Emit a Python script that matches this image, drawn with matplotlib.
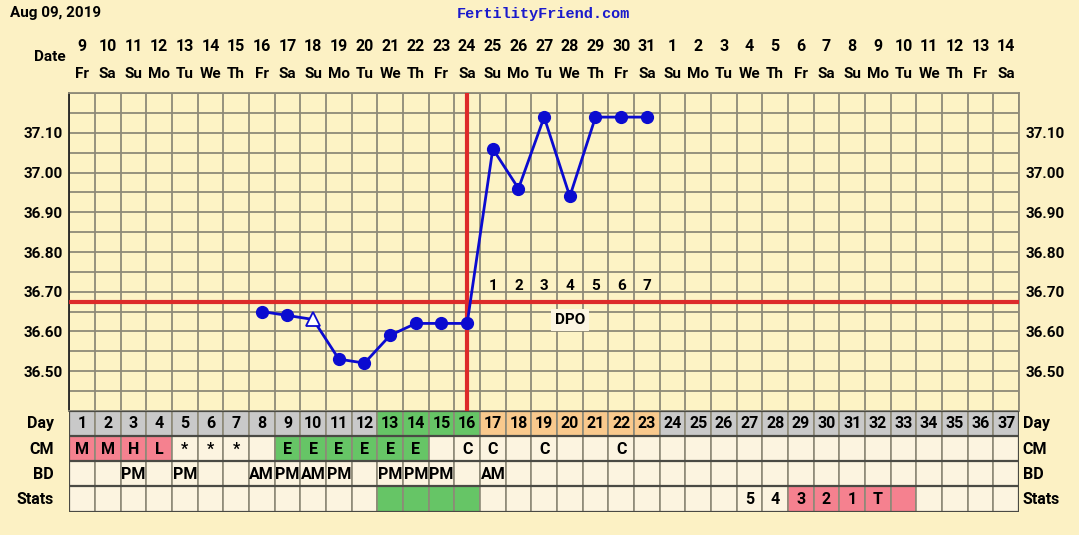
import matplotlib.pyplot as plt
import matplotlib.transforms as mtransforms
import numpy as np

plt.rcParams['font.family'] = ['Roboto', 'DejaVu Sans']
plt.rcParams['font.weight'] = 'bold'

# ---- data ----
days = list(range(1, 38))
dates = list(range(9, 32)) + list(range(1, 15))
weekdays = ['Fr', 'Sa', 'Su', 'Mo', 'Tu', 'We', 'Th'] * 5 + ['Fr', 'Sa']

temp_days = list(range(8, 24))
temps = [36.65, 36.64, 36.63, 36.53, 36.52, 36.59, 36.62, 36.62, 36.62,
         37.06, 36.96, 37.14, 36.94, 37.14, 37.14, 37.14]
open_days = [10]

coverline = 36.675
ovulation_day = 16
dpo_days = list(range(17, 24))
dpo_labels = ['1', '2', '3', '4', '5', '6', '7']

y_labels = [36.50, 36.60, 36.70, 36.80, 36.90, 37.00, 37.10]

day_fill = ['gray'] * 12 + ['green'] * 4 + ['orange'] * 7 + ['gray'] * 14
cm_text = ['M', 'M', 'H', 'L', '*', '*', '*', '', 'E', 'E', 'E', 'E', 'E', 'E',
           '', 'C', 'C', '', 'C', '', '', 'C', ''] + [''] * 14
cm_fill = ['pink'] * 4 + ['cell'] * 4 + ['green'] * 6 + ['cell'] * 23
bd_text = ['', '', 'PM', '', 'PM', '', '', 'AM', 'PM', 'AM', 'PM', '', 'PM',
           'PM', 'PM', '', 'AM'] + [''] * 20
bd_fill = ['cell'] * 37
stats_text = [''] * 26 + ['5', '4', '3', '2', '1', 'T'] + [''] * 5
stats_fill = ['cell'] * 12 + ['green'] * 4 + ['cell'] * 12 + ['pink'] * 5 + ['cell'] * 4

row_names = ['Day', 'CM', 'BD', 'Stats']
row_text = [[str(d) for d in days], cm_text, bd_text, stats_text]
row_fill = [day_fill, cm_fill, bd_fill, stats_fill]

palette = {'gray': '#c9c9c9', 'green': '#66c566', 'orange': '#f9c98d',
           'pink': '#f5818f', 'cell': '#fcf4e0'}

bg = '#fcf1c4'
grid_c = '#8e8a78'
blue = '#0b0bd0'
red = '#dd2a2a'

W, H = 1079, 535
fig = plt.figure(figsize=(W / 100, H / 100), dpi=100, facecolor=bg)

left, right = 69.3, 1019
ax = fig.add_axes([left / W, 1 - 410.7 / H, (right - left) / W, (410.7 - 93.3) / H])
tax = fig.add_axes([left / W, 1 - 511.7 / H, (right - left) / W, 101 / H])

# ---- temperature chart ----
ax.set_facecolor('#fdf3c5')
ax.set_xlim(0.5, 37.5)
ax.set_ylim(36.40, 37.20)
ax.set_xticks([])
ax.set_xticks(np.arange(0.5, 38, 1), minor=True)
ax.set_yticks(y_labels, [f'{v:.2f}' for v in y_labels], fontsize=11)
ax.set_yticks(np.arange(36.40, 37.21, 0.05), minor=True)
ax.tick_params(which='both', length=0)
ax.tick_params(axis='y', labelright=True, pad=4.5)
ax.grid(which='both', color=grid_c, lw=1.3)
ax.set_axisbelow(True)
for s in ax.spines.values():
    s.set_color(grid_c)
    s.set_linewidth(1.3)
ax.spines['left'].set_color('#222222')

ax.axhline(coverline, color=red, lw=3, zorder=3)
ax.axvline(ovulation_day, color=red, lw=3, zorder=3)

ax.plot(temp_days, temps, color=blue, lw=2, zorder=4)
filled = [(d, t) for d, t in zip(temp_days, temps) if d not in open_days]
hollow = [(d, t) for d, t in zip(temp_days, temps) if d in open_days]
ax.plot([p[0] for p in filled], [p[1] for p in filled], 'o', color=blue, ms=8.5, zorder=5)
ax.plot([p[0] for p in hollow], [p[1] for p in hollow], '^', mfc='white', mec=blue,
        mew=1.3, ms=10, zorder=5)

for d, lab in zip(dpo_days, dpo_labels):
    ax.text(d, 36.714, lab, ha='center', va='center', fontsize=11, zorder=6)
ax.text(20, 36.628, 'DPO', ha='center', va='center', fontsize=11, zorder=6,
        bbox=dict(boxstyle='square,pad=0.25', fc='#fcf5e2', ec='none'))

# ---- table ----
tax.set_xlim(0.5, 37.5)
tax.set_ylim(4, 0)
tax.axis('off')
for r in range(4):
    tax.bar(days, 1, bottom=r, width=1, color=[palette[c] for c in row_fill[r]],
            edgecolor=grid_c, linewidth=1.2)
    for d, txt in zip(days, row_text[r]):
        if txt:
            tax.text(d, r + 0.52, txt, ha='center', va='center', fontsize=11.5)
    tax.text(-0.1, r + 0.52, row_names[r], ha='right', va='center', fontsize=11.5,
             clip_on=False)
    tax.text(37.65, r + 0.52, row_names[r], ha='left', va='center', fontsize=11.5,
             clip_on=False)
tax.hlines([0, 1, 2, 3, 4], 0.5, 37.5, color='#4a4a44', lw=1.6)
tax.vlines([0.5, 37.5], 0, 4, color='#4a4a44', lw=1.6)

# ---- header ----
fig.text(10 / W, 1 - 13 / H, 'Aug 09, 2019', ha='left', va='center', fontsize=11)
fig.text(543 / W, 1 - 14 / H, 'FertilityFriend.com', ha='center', va='center',
         fontsize=11, family='Liberation Mono', color='#1a1acc')
fig.text(66 / W, 1 - 57 / H, 'Date', ha='right', va='center', fontsize=11)
trans = mtransforms.blended_transform_factory(ax.transData, fig.transFigure)
for d, dt, wd in zip(days, dates, weekdays):
    fig.text(d, 1 - 47 / H, str(dt), ha='center', va='center', fontsize=11.5, transform=trans)
    fig.text(d, 1 - 74 / H, wd, ha='center', va='center', fontsize=11, transform=trans)

fig.savefig('out.png', dpi=100, facecolor=bg)
